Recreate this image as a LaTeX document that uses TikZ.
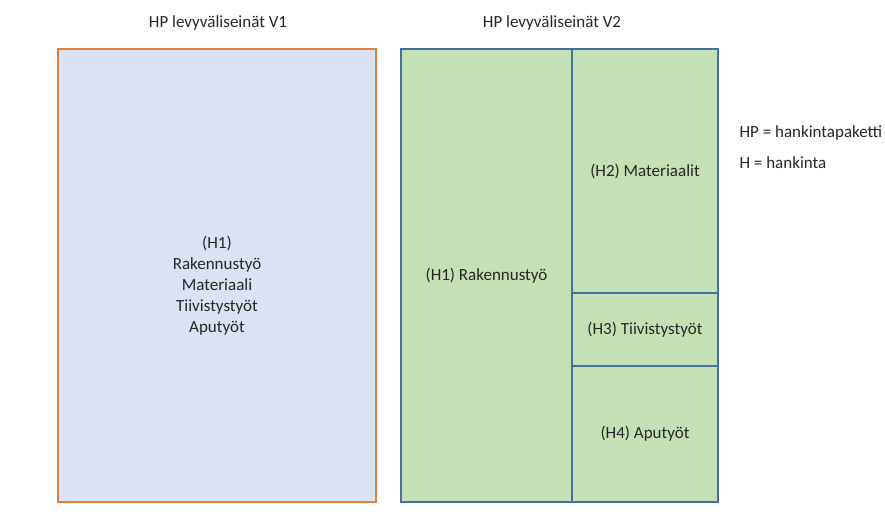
\documentclass[tikz,border=0pt]{standalone}
\usepackage{fontspec}
\setmainfont{Carlito}
\usetikzlibrary{positioning}
\definecolor{vonefill}{HTML}{DAE3F3}
\definecolor{voneline}{HTML}{E0803F}
\definecolor{vtwofill}{HTML}{C5E0B4}
\definecolor{vtwoline}{HTML}{41719C}
\tikzset{
    vone/.style = {draw=voneline, fill=vonefill, line width=2.8pt,
                 minimum width=318pt, minimum height=453pt},
    vtwo/.style = {draw=vtwoline, fill=vtwofill, line width=1.2pt, outer sep=0pt, align=center},
    txt/.style = {font=\fontsize{17pt}{21pt}\selectfont, text=black!85, align=center},
}

\begin{document}
\begin{tikzpicture}[x=1pt,y=-1pt]
 \useasboundingbox (0,0) rectangle (885,514);
 \node (t1) [txt] at (218,23) {HP levyväliseinät V1};
 \node (t2) [txt] at (552,23) {HP levyväliseinät V2};

 \node (v1) [vone] at (217,275.5) {};
 \node (v1txt) [txt] at (217,286) {(H1)\\Rakennustyö\\Materiaali\\Tiivistystyöt\\Aputyöt};

 \node (h1) [vtwo,txt,minimum width=171pt,minimum height=453pt] at (486.5,275.5) {(H1) Rakennustyö};
 \node (h2) [vtwo,txt,minimum width=146pt,minimum height=244pt,anchor=north west] at (h1.north east) {(H2) Materiaalit};
 \node (h3) [vtwo,txt,minimum width=146pt,minimum height=73pt,below=0pt of h2] {(H3) Tiivistystyöt};
 \node (h4) [vtwo,txt,minimum width=146pt,minimum height=136pt,below=0pt of h3] {(H4) Aputyöt};

 \node (l1) [txt,anchor=west] at (736,133) {HP = hankintapaketti};
 \node (l2) [txt,anchor=west] at (736,163) {H = hankinta};
\end{tikzpicture}
\end{document}
